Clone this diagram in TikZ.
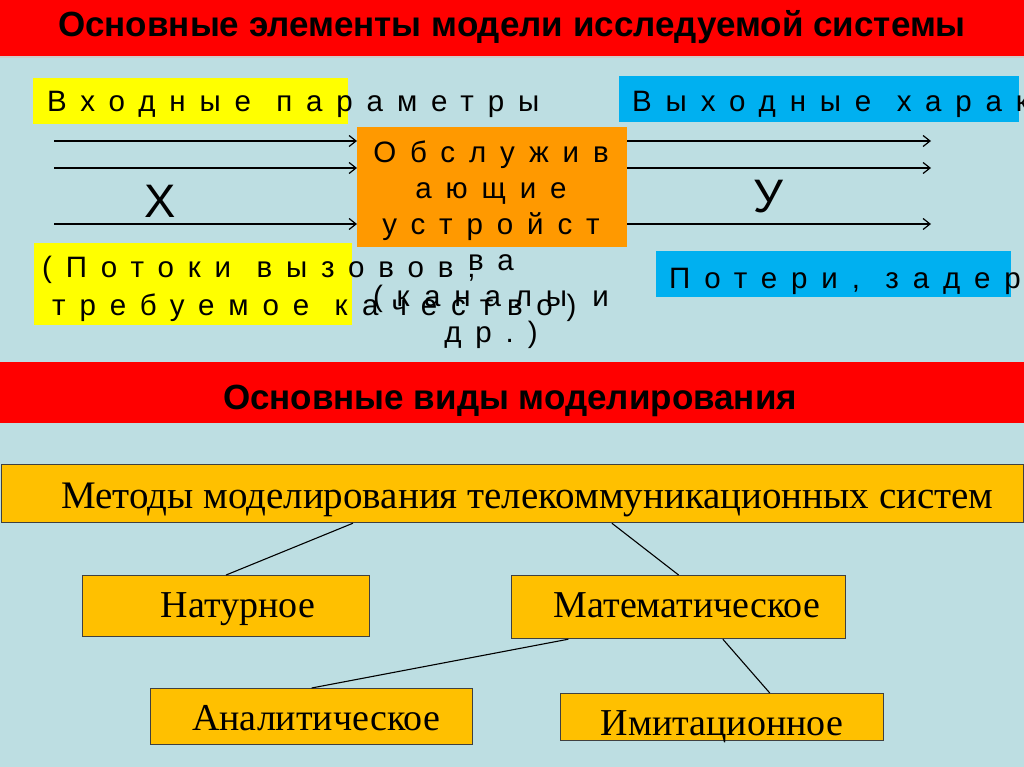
\documentclass[tikz,border=0pt]{standalone}
\usepackage{fontspec}
\setmainfont{Liberation Serif}
\setsansfont{Liberation Sans}
\newfontfamily\spacedfont[LetterSpace=47, WordSpace=1.15]{Liberation Sans}
\usetikzlibrary{positioning,calc,arrows.meta}

\definecolor{slidebg}{RGB}{189,222,226}
\definecolor{bandred}{RGB}{255,0,0}
\definecolor{paramyellow}{RGB}{255,255,0}
\definecolor{servorange}{RGB}{255,153,0}
\definecolor{outblue}{RGB}{0,176,240}
\definecolor{methodgold}{RGB}{255,192,0}

\tikzset{
    bandtext/.style={font=\sffamily\bfseries\fontsize{35}{40}\selectfont, inner sep=0pt},
    parambox/.style={anchor=north west, inner sep=0pt, draw=none},
    spacedtext/.style={font=\spacedfont\fontsize{29.5}{36}\selectfont, inner sep=0pt, align=left},
    modelbox/.style={anchor=north west, fill=methodgold, draw=black!75, line width=1.2pt, inner sep=0pt},
    modeltext/.style={font=\fontsize{38}{42}\selectfont, inner sep=0pt, anchor=base},
    flow/.style={-{Straight Barb[length=7pt, width=11pt]}, line width=1.2pt},
    branch/.style={line width=1.1pt},
}

\begin{document}
\begin{tikzpicture}[x=1pt, y=-1pt]
    % Slide frame
        \clip (0,0) rectangle (1024,767);
        \fill[slidebg] (0,0) rectangle (1024,767);

    % Red bands
        \fill[bandred] (0,0) rectangle (1024,56);
        \draw[black!20, line width=1.5pt] (0,57) -- (1024,57);
        \node[bandtext, anchor=base] (toptitle) at (512,37) {Основные элементы модели исследуемой системы};

        \fill[bandred] (0,362) rectangle (1024,423);
        \node[bandtext, anchor=base] (midtitle) at (510,409) {Основные виды моделирования};

    % Input side
        \node[parambox, fill=paramyellow, minimum width=315pt, minimum height=46pt] (inbox) at (33,78) {};
        \node[spacedtext, anchor=base west] (inlbl) at (47,112) {Входные параметры};

        \node[parambox, fill=paramyellow, minimum width=318pt, minimum height=82pt] (flowbox) at (34,243) {};
        \node[spacedtext, font=\spacedfont\fontsize{29.5}{38}\selectfont, anchor=base west] (flowlbl) at (42,315) {(Потоки вызовов,\\\hspace*{10pt}требуемое качество)};

    % Serving devices
        \node[parambox, fill=servorange, minimum width=270pt, minimum height=120pt] (serv) at (357,127) {};
        \node[spacedtext, align=center, anchor=base] (servlbl) at (491,342) {Обслужив\\ающие\\устройст\\ва\\(каналы и\\др.)};

    % Output side
        \node[parambox, fill=outblue, minimum width=400pt, minimum height=46pt] (outbox) at (619,76) {};
        \node[spacedtext, anchor=base west] (outlbl) at (632,112) {Выходные характеристики};

        \node[parambox, fill=outblue, minimum width=355pt, minimum height=46pt] (lossbox) at (656,251) {};
        \node[spacedtext, anchor=base west] (losslbl) at (669,288) {Потери, задержки};

    % Arrows
        \foreach \row/\ypos in {1/141, 2/168, 3/224} {
            \coordinate (in\row) at (54,\ypos);
            \coordinate (out\row) at (931,\ypos);
            \draw[flow] (in\row) -- (in\row -| serv.west);
            \draw[flow] (serv.east |- out\row) -- (out\row);
        }
        \node[font=\sffamily\fontsize{47}{50}\selectfont, inner sep=0pt, anchor=base] (xlbl) at (160,218) {Х};
        \node[font=\sffamily\fontsize{47}{50}\selectfont, inner sep=0pt, anchor=base] (ylbl) at (768,213) {У};

    % Modelling methods
        \node[modelbox, minimum width=1022pt, minimum height=58pt] (methods) at (1,464) {};
        \node[modeltext, font=\fontsize{39}{44}\selectfont, anchor=base west] (methodslbl) at (61,508) {Методы моделирования телекоммуникационных систем};

        \node[modelbox, minimum width=287pt, minimum height=61pt] (natural) at (82,575) {};
        \node[modeltext] (naturallbl) at (238,617) {Натурное};
        \node[modelbox, minimum width=334pt, minimum height=63pt] (math) at (511,575) {};
        \node[modeltext] (mathlbl) at (687,617) {Математическое};
        \node[modelbox, minimum width=322pt, minimum height=56pt] (analytic) at (150,688) {};
        \node[modeltext] (analyticlbl) at (316,730) {Аналитическое};
        \node[modelbox, minimum width=323pt, minimum height=47pt] (imitation) at (560,693) {};
        \node[modeltext] (imitationlbl) at (722,735) {Имитационное};

        \draw[branch] ($(methods.south west)!0.344!(methods.south east)$) -- (natural.north);
        \draw[branch] ($(methods.south west)!0.597!(methods.south east)$) -- (math.north);
        \draw[branch] ($(math.south west)!0.171!(math.south east)$) -- (analytic.north);
        \draw[branch] ($(math.south west)!0.632!(math.south east)$) -- ($(imitation.north west)!0.647!(imitation.north east)$);
\end{tikzpicture}
\end{document}
